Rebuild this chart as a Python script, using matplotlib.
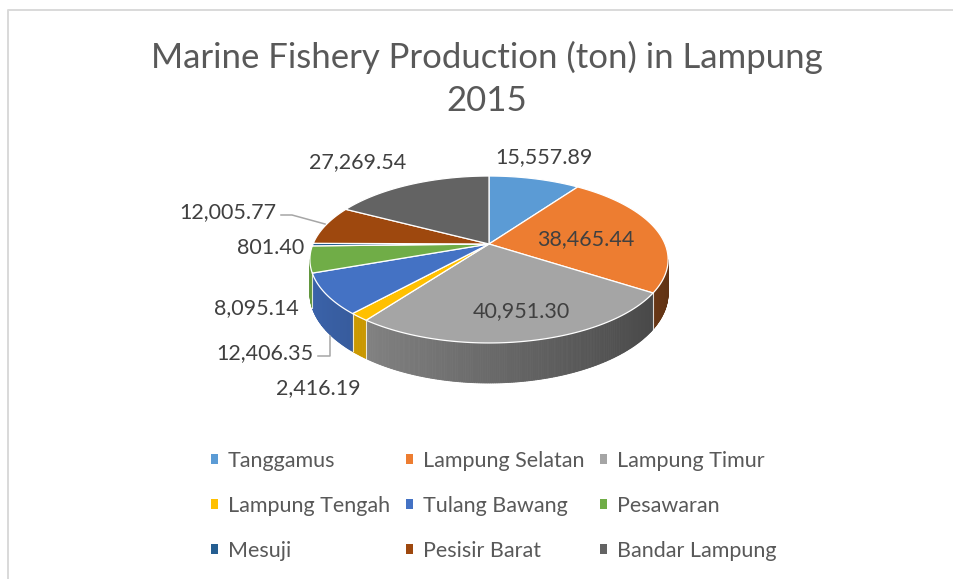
import numpy as np
import matplotlib
matplotlib.use("Agg")
import matplotlib.pyplot as plt
from matplotlib.patches import Polygon, Patch
from matplotlib.colors import to_rgb

# ---------------- data ----------------
categories = ["Tanggamus", "Lampung Selatan", "Lampung Timur", "Lampung Tengah",
              "Tulang Bawang", "Pesawaran", "Mesuji", "Pesisir Barat", "Bandar Lampung"]
values = [15557.89, 38465.44, 40951.30, 2416.19, 12406.35, 8095.14, 801.40, 12005.77, 27269.54]
colors = ["#5B9BD5", "#ED7D31", "#A5A5A5", "#FFC000", "#4472C4",
          "#70AD47", "#255E91", "#9E480E", "#636363"]
title = "Marine Fishery Production (ton) in Lampung\n2015"

# ---------------- layout (pixels) ----------------
W, H = 954, 579
CX, CY = 489.0, 244.0      # pie centre on screen
R = 176.0                  # horizontal radius
C = 80.6                   # vertical half-size factor
K = 0.1856                 # perspective factor
D = 32.6                   # depth of the pie wall

label_pos = [(544, 157), (586, 239), (521, 311), (318, 388), (265, 353),
             (256, 308), (271, 248), (228, 212), (358, 162)]
leaders = {4: [(318, 356), (330, 356), (330, 336)],
           7: [(281, 215), (292, 215), (325, 224)]}

plt.rcParams["font.family"] = ["Lato", "DejaVu Sans"]

fig = plt.figure(figsize=(W / 100, H / 100), dpi=100)
ax = fig.add_axes([0, 0, 1, 1])
ax.set_xlim(0, W)
ax.set_ylim(H, 0)
ax.axis("off")


def proj(theta_deg, z=0.0):
    t = np.radians(theta_deg)
    u = np.sin(t)
    v = np.cos(t)
    w = 1 + K * v
    return CX + R * u / w, CY - C * v / w + z * D / w


vals = np.array(values, dtype=float)
cum = np.concatenate([[0], np.cumsum(vals)]) / vals.sum() * 360.0

sil_r = np.degrees(np.arccos(-K))
sil_l = 360.0 - sil_r

# ---- walls ----
for i, col in enumerate(colors):
    a0, a1 = max(cum[i], sil_r), min(cum[i + 1], sil_l)
    if a1 <= a0:
        continue
    base = np.array(to_rgb(col))
    n = max(2, int((a1 - a0) / 0.5) + 1)
    th = np.linspace(a0, a1, n)
    for t0, t1 in zip(th[:-1], th[1:]):
        tm = np.radians(0.5 * (t0 + t1))
        f = 0.64 - 0.24 * np.sin(tm)
        c = np.clip(base * f, 0, 1)
        pts = [proj(t0, 0), proj(t1, 0), proj(t1, 1), proj(t0, 1)]
        ax.add_patch(Polygon(pts, closed=True, facecolor=c, edgecolor=c,
                             linewidth=0.6, zorder=1))
# boundary lines on walls
for a in cum[1:-1]:
    if sil_r < a < sil_l:
        x0, y0 = proj(a, 0)
        x1, y1 = proj(a, 1)
        ax.plot([x0, x1], [y0, y1], color="white", lw=0.8, alpha=0.8, zorder=1.5)

# ---- top surface ----
for i, col in enumerate(colors):
    a0, a1 = cum[i], cum[i + 1]
    n = max(3, int((a1 - a0) / 0.5) + 2)
    th = np.linspace(a0, a1, n)
    pts = [(CX, CY)] + [proj(t, 0) for t in th]
    ax.add_patch(Polygon(pts, closed=True, facecolor=col, edgecolor="white",
                         linewidth=0.9, joinstyle="round", zorder=2))

# ---- data labels ----
for i, v in enumerate(values):
    x, y = label_pos[i]
    ax.text(x, y, f"{v:,.2f}", ha="center", va="center", fontsize=15.5,
            color="#404040", zorder=4)
for i, pts in leaders.items():
    xs, ys = zip(*pts)
    ax.plot(xs, ys, color="#A6A6A6", lw=1.1, zorder=3)

# ---- title ----
ax.text(487, 79, title, ha="center", va="center", fontsize=25,
        color="#595959", linespacing=1.40)

# ---- border ----
ax.plot([8.5, 8.5, W], [H, 9.5, 9.5], color="#D9D9D9", lw=1.4, zorder=0)

# ---- legend (row-major order like Excel) ----
handles = [Patch(facecolor=c, edgecolor="none") for c in colors]
ncol = 3
order = [r * ncol + c for c in range(ncol) for r in range(3)]
leg = ax.legend([handles[j] for j in order], [categories[j] for j in order],
                ncol=ncol, loc="center", bbox_to_anchor=(494 / W, 1 - 506 / H),
                bbox_transform=fig.transFigure, frameon=False, fontsize=15.5,
                handlelength=0.32, handleheight=0.32, handletextpad=0.45,
                columnspacing=0.75, labelspacing=1.16, labelcolor="#595959")

fig.savefig("out.png", dpi=100, facecolor="white")
